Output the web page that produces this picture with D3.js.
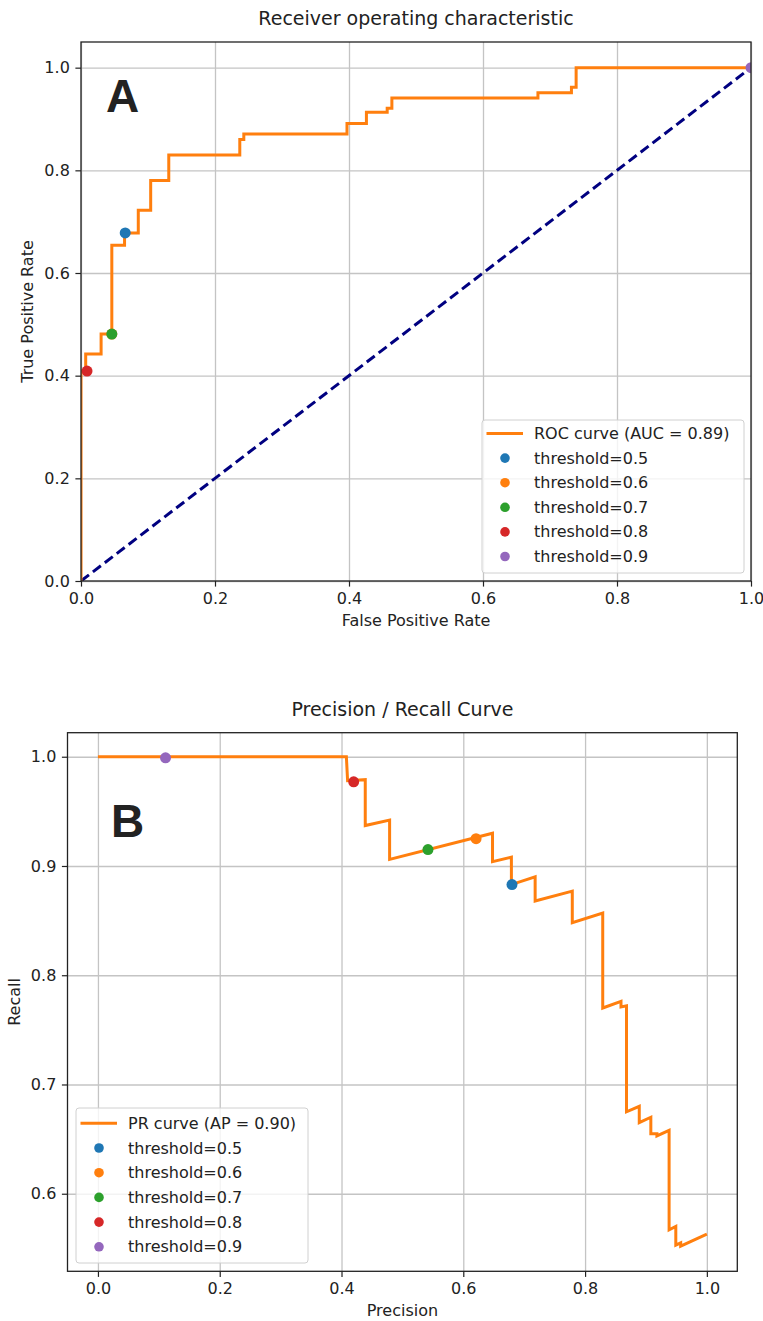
<!DOCTYPE html>
<html>
<head>
    <meta charset="utf-8">
    <title>ROC and Precision / Recall curves</title>
    <script src="https://d3js.org/d3.v7.min.js"></script>
    <style>
        body {
            margin: 0;
            padding: 0;
            background: white;
        }
        svg text {
            font-family: "DejaVu Sans", sans-serif;
            fill: #222;
        }
        .grid line {
            stroke: #c4c4c4;
            stroke-width: 1.3;
        }
        .grid path {
            display: none;
        }
        .axis path {
            display: none;
        }
        .axis line {
            stroke: #222;
            stroke-width: 1.2;
        }
        .axis text {
            font-size: 16px;
        }
        .frame {
            fill: none;
            stroke: #222;
            stroke-width: 1.3;
        }
        .chart-title {
            font-size: 19px;
            text-anchor: middle;
        }
        .axis-label {
            font-size: 16px;
            text-anchor: middle;
        }
        .panel-letter {
            font-family: "Liberation Sans", Arial, sans-serif !important;
            font-weight: bold;
            font-size: 46px;
        }
        .legend-box {
            fill: white;
            fill-opacity: 0.8;
            stroke: #d0d0d0;
            stroke-width: 1;
        }
        .legend-text {
            font-size: 16px;
        }
    </style>
</head>
<body>
    <svg id="chart" width="763" height="1321"></svg>
    <script>
        // threshold markers (shared by both panels)
        const thresholdLabels = ['threshold=0.5', 'threshold=0.6', 'threshold=0.7', 'threshold=0.8', 'threshold=0.9'];
        const thresholdColors = ['#1f77b4', '#ff7f0e', '#2ca02c', '#d62728', '#9467bd'];

        // ROC curve (corner points)
        const rocFpr = [0, 0, 0.007, 0.007, 0.03, 0.03, 0.046, 0.046, 0.065, 0.065, 0.0855, 0.0855, 0.104, 0.104,
                        0.131, 0.131, 0.237, 0.237, 0.243, 0.243, 0.397, 0.397, 0.426, 0.426, 0.457, 0.457,
                        0.464, 0.464, 0.682, 0.682, 0.732, 0.732, 0.739, 0.739, 1.0];
        const rocTpr = [0, 0.409, 0.409, 0.442, 0.442, 0.481, 0.481, 0.654, 0.654, 0.678, 0.678, 0.722, 0.722, 0.78,
                        0.78, 0.83, 0.83, 0.86, 0.86, 0.871, 0.871, 0.891, 0.891, 0.913, 0.913, 0.921,
                        0.921, 0.941, 0.941, 0.951, 0.951, 0.962, 0.962, 1.0, 1.0];
        const rocThrFpr = [0.066, 0.046, 0.046, 0.009, 1.0];
        const rocThrTpr = [0.678, 0.481, 0.481, 0.409, 1.0];
        const rocLegendLabel = 'ROC curve (AUC = 0.89)';
        const rocTicks = [0, 0.2, 0.4, 0.6, 0.8, 1.0];

        // PR curve
        const prX = [0, 0.408, 0.41, 0.439, 0.439, 0.479, 0.479, 0.648, 0.648, 0.679, 0.679, 0.718, 0.718,
                     0.779, 0.779, 0.829, 0.829, 0.859, 0.859, 0.868, 0.868, 0.889, 0.889, 0.908, 0.908,
                     0.918, 0.918, 0.938, 0.938, 0.949, 0.949, 0.957, 0.957, 1.0];
        const prY = [1.0, 1.0, 0.978, 0.979, 0.937, 0.942, 0.906, 0.930, 0.904, 0.908, 0.883, 0.890, 0.868,
                     0.877, 0.848, 0.857, 0.770, 0.776, 0.771, 0.772, 0.675, 0.680, 0.665, 0.670, 0.655,
                     0.655, 0.653, 0.658, 0.567, 0.570, 0.553, 0.555, 0.552, 0.563];
        const prThrX = [0.680, 0.621, 0.542, 0.420, 0.111];
        const prThrY = [0.883, 0.925, 0.915, 0.977, 0.999];
        const prLegendLabel = 'PR curve (AP = 0.90)';
        const prXTicks = [0, 0.2, 0.4, 0.6, 0.8, 1.0];
        const prYTicks = [0.6, 0.7, 0.8, 0.9, 1.0];

        const svg = d3.select('#chart');
        const fmt = d3.format('.1f');

        function drawPanel(cfg) {
            const g = svg.append('g');
            const x = d3.scaleLinear().domain(cfg.xDomain).range([cfg.left, cfg.right]);
            const y = d3.scaleLinear().domain(cfg.yDomain).range([cfg.bottom, cfg.top]);
            const w = cfg.right - cfg.left;
            const h = cfg.bottom - cfg.top;

            g.append('clipPath').attr('id', cfg.id + '-clip')
                .append('rect')
                .attr('x', cfg.left).attr('y', cfg.top)
                .attr('width', w).attr('height', h);

            // grid
            g.append('g').attr('class', 'grid')
                .attr('transform', `translate(0,${cfg.bottom})`)
                .call(d3.axisBottom(x).tickValues(cfg.xTicks).tickSize(-h).tickFormat(''));
            g.append('g').attr('class', 'grid')
                .attr('transform', `translate(${cfg.left},0)`)
                .call(d3.axisLeft(y).tickValues(cfg.yTicks).tickSize(-w).tickFormat(''));

            const plot = g.append('g').attr('clip-path', `url(#${cfg.id}-clip)`);

            if (cfg.diagonal) {
                plot.append('line')
                    .attr('x1', x(0)).attr('y1', y(0))
                    .attr('x2', x(1)).attr('y2', y(1))
                    .attr('stroke', 'navy')
                    .attr('stroke-width', 3)
                    .attr('stroke-dasharray', '10,5');
            }

            const line = d3.line()
                .x(d => x(d[0]))
                .y(d => y(d[1]));

            plot.append('path')
                .datum(d3.zip(cfg.curveX, cfg.curveY))
                .attr('fill', 'none')
                .attr('stroke', '#ff7f0e')
                .attr('stroke-width', 3)
                .attr('stroke-linejoin', 'miter')
                .attr('d', line);

            plot.selectAll('circle.thr')
                .data(d3.range(cfg.thrX.length))
                .join('circle')
                .attr('class', 'thr')
                .attr('cx', i => x(cfg.thrX[i]))
                .attr('cy', i => y(cfg.thrY[i]))
                .attr('r', 5.5)
                .attr('fill', i => thresholdColors[i]);

            // frame + ticks
            g.append('rect').attr('class', 'frame')
                .attr('x', cfg.left).attr('y', cfg.top)
                .attr('width', w).attr('height', h);

            g.append('g').attr('class', 'axis')
                .attr('transform', `translate(0,${cfg.bottom})`)
                .call(d3.axisBottom(x).tickValues(cfg.xTicks).tickSize(5.6).tickPadding(5.6).tickFormat(fmt));
            g.append('g').attr('class', 'axis')
                .attr('transform', `translate(${cfg.left},0)`)
                .call(d3.axisLeft(y).tickValues(cfg.yTicks).tickSize(5.6).tickPadding(5.6).tickFormat(fmt));
            g.selectAll('.axis text').attr('fill', '#222').style('fill', '#222');

            // titles and labels
            g.append('text').attr('class', 'chart-title')
                .attr('x', (cfg.left + cfg.right) / 2)
                .attr('y', cfg.top - 17)
                .text(cfg.title);
            g.append('text').attr('class', 'axis-label')
                .attr('x', (cfg.left + cfg.right) / 2)
                .attr('y', cfg.bottom + 45)
                .text(cfg.xLabel);
            g.append('text').attr('class', 'axis-label')
                .attr('transform', `translate(${cfg.yLabelX},${(cfg.top + cfg.bottom) / 2}) rotate(-90)`)
                .text(cfg.yLabel);

            g.append('text').attr('class', 'panel-letter')
                .attr('x', cfg.letterX).attr('y', cfg.letterY)
                .text(cfg.letter);

            // legend
            const lg = cfg.legend;
            const leg = g.append('g');
            leg.append('rect').attr('class', 'legend-box')
                .attr('x', lg.x0).attr('y', lg.y0)
                .attr('width', lg.x1 - lg.x0).attr('height', lg.y1 - lg.y0)
                .attr('rx', 3);
            const rowY = i => lg.firstRow + i * lg.rowStep;
            leg.append('line')
                .attr('x1', lg.x0 + 4.5).attr('x2', lg.x0 + 41)
                .attr('y1', rowY(0)).attr('y2', rowY(0))
                .attr('stroke', '#ff7f0e').attr('stroke-width', 3);
            leg.append('text').attr('class', 'legend-text')
                .attr('x', lg.x0 + 52).attr('y', rowY(0) + 5.5)
                .text(cfg.curveLabel);
            leg.selectAll('circle')
                .data(thresholdLabels)
                .join('circle')
                .attr('cx', lg.x0 + 23)
                .attr('cy', (d, i) => rowY(i + 1))
                .attr('r', 4.8)
                .attr('fill', (d, i) => thresholdColors[i]);
            leg.selectAll('text.thr-label')
                .data(thresholdLabels)
                .join('text')
                .attr('class', 'legend-text thr-label')
                .attr('x', lg.x0 + 52)
                .attr('y', (d, i) => rowY(i + 1) + 5.5)
                .text(d => d);
        }

        drawPanel({
            id: 'roc',
            left: 81, right: 751, top: 42, bottom: 581,
            xDomain: [0, 1], yDomain: [0, 1.05],
            xTicks: rocTicks, yTicks: rocTicks,
            curveX: rocFpr, curveY: rocTpr,
            thrX: rocThrFpr, thrY: rocThrTpr,
            diagonal: true,
            title: 'Receiver operating characteristic',
            xLabel: 'False Positive Rate',
            yLabel: 'True Positive Rate',
            yLabelX: 33,
            letter: 'A', letterX: 106, letterY: 112,
            curveLabel: rocLegendLabel,
            legend: { x0: 482, y0: 420, x1: 744, y1: 573, firstRow: 433.5, rowStep: 24.6 }
        });

        drawPanel({
            id: 'pr',
            left: 67.5, right: 737.3, top: 732.7, bottom: 1271.3,
            xDomain: [-0.05, 1.05], yDomain: [0.529, 1.022],
            xTicks: prXTicks, yTicks: prYTicks,
            curveX: prX, curveY: prY,
            thrX: prThrX, thrY: prThrY,
            diagonal: false,
            title: 'Precision / Recall Curve',
            xLabel: 'Precision',
            yLabel: 'Recall',
            yLabelX: 20,
            letter: 'B', letterX: 111, letterY: 837,
            curveLabel: prLegendLabel,
            legend: { x0: 76, y0: 1108, x1: 308, y1: 1263, firstRow: 1123.3, rowStep: 24.7 }
        });
    </script>
</body>
</html>
